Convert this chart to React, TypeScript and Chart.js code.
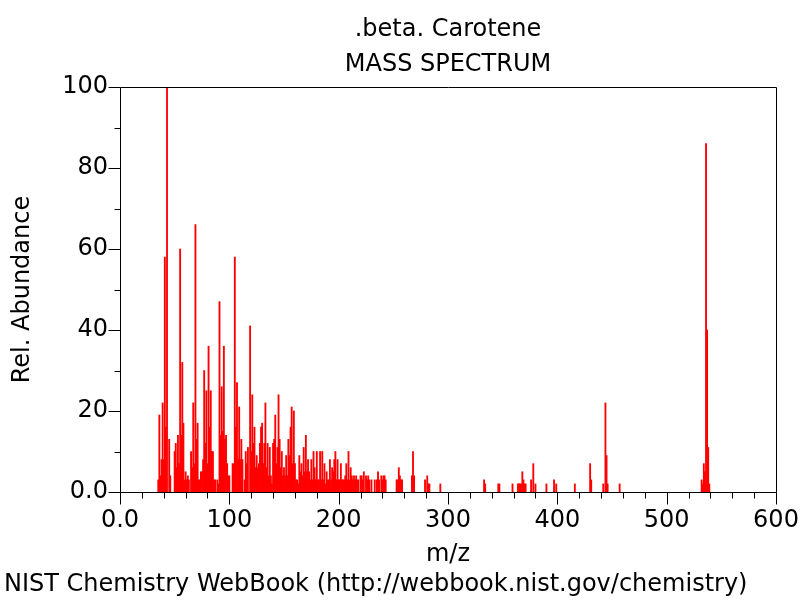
import React, { useEffect, useRef } from 'react';
import { Chart, registerables } from 'chart.js';

Chart.register(...registerables);

const TITLE_LINES = ['.beta. Carotene', 'MASS SPECTRUM'];
const X_TITLE = 'm/z';
const Y_TITLE = 'Rel. Abundance';
const FOOTER = 'NIST Chemistry WebBook (http://webbook.nist.gov/chemistry)';

const X_TICK_LABELS = ['0.0', '100', '200', '300', '400', '500', '600'];
const Y_TICK_LABELS = ['0.0', '20', '40', '60', '80', '100'];

// m/z values
const MZ = [
  35, 36, 37, 38, 39, 40, 41, 42, 43, 45, 46,
  50, 51, 52, 53, 54, 55, 56, 57, 58,
  59, 60, 61, 62, 63,
  65, 66, 67, 68, 69, 70, 71, 72, 73, 74, 75, 76, 77, 78, 79, 80,
  81, 82, 83, 84, 85, 86, 87, 89, 90, 91, 92, 93, 94, 95, 96, 97, 98, 99, 100,
  103, 104, 105, 106, 107, 108, 109, 110, 111, 112, 114, 115, 116, 117, 119,
  120, 121, 122, 123, 124, 125, 126, 127, 128, 129, 130, 131, 132, 133, 134, 135, 136, 137, 138, 139, 140,
  141, 142, 143, 144, 145, 146, 147, 148, 149, 150, 151, 152, 153, 154, 155, 156, 157, 158, 159, 160,
  161, 162, 163, 164, 165, 166, 167, 168, 169, 170, 171, 172, 173, 174, 175, 176, 177, 178, 179, 180,
  181, 182, 183, 184, 185, 186, 187, 188, 189, 190, 191, 192, 193, 194, 195, 196, 197, 198, 199, 200,
  201, 202, 203, 204, 205, 206, 207, 208, 209, 210, 211, 212, 213, 214, 215, 216, 217, 218, 220,
  221, 222, 223, 225, 226, 227, 228, 230, 233, 235, 236, 237, 239, 240, 241, 242, 243,
  253, 254, 255, 256, 257, 258, 267, 268, 269, 279, 281, 282, 283, 293,
  333, 334, 346, 347, 359, 364, 365, 366, 367, 368, 369, 370, 371, 376, 378, 380, 390, 397, 399,
  416, 430, 431, 442, 444, 445, 446, 457,
  532, 533, 534, 535, 536, 537, 538, 539,
];

// relative abundance (%)
const ABUNDANCE = [
  3, 19, 4, 8, 22, 8, 58, 16, 100, 13, 4,
  10, 12, 6, 14, 7, 60, 14, 32, 17,
  3, 5, 3, 4, 3,
  10, 6, 22, 7, 66, 13, 17, 3, 3, 5, 5, 8, 30, 12, 25, 7,
  36, 16, 25, 10, 10, 3, 3, 3, 2, 47, 14, 26, 15, 36, 13, 14, 7, 4, 4,
  7, 7, 58, 16, 27, 8, 21, 8, 13, 8, 3, 10, 7, 11, 41,
  10, 24, 12, 16, 6, 9, 6, 7, 12, 16, 17, 7, 12, 22, 6, 12, 4, 11, 4, 2, 12,
  13, 19, 7, 11, 24, 13, 6, 10, 4, 6, 4, 9, 4, 13, 9, 16, 21, 7, 20, 7,
  3, 3, 2, 9, 5, 7, 4, 11, 5, 14, 5, 8, 5, 3, 8, 3, 10, 6, 3, 10,
  3, 3, 10, 3, 10, 3, 7, 2, 5, 3, 3, 8, 3, 6, 5, 8, 10, 3, 8, 3,
  3, 7, 3, 3, 3, 4, 7, 3, 10, 3, 6, 4, 3, 4, 3, 4, 3, 3, 4,
  4, 3, 5, 4, 3, 4, 3, 3, 3, 3, 5, 3, 4, 3, 4, 4, 3,
  3, 3, 6, 4, 3, 3, 4, 10, 4, 3, 4, 2, 2, 2,
  3, 2, 2, 2, 2, 2, 2, 2, 2, 5, 3, 2, 2, 3, 7, 2, 2, 3, 2,
  2, 7, 3, 2, 22, 9, 2, 2,
  3, 2, 7, 5, 86, 40, 11, 2,
];

const FONT = '"DejaVu Sans", sans-serif';

const decorPlugin = {
  id: 'decor',
  afterDraw(chart: any) {
    const { ctx, chartArea: a, scales } = chart;
    const L = Math.round(a.left) + 0.5;
    const R = Math.round(a.right) + 0.5;
    const T = Math.round(a.top) + 0.5;
    const B = Math.round(a.bottom) + 0.5;
    ctx.save();
    ctx.strokeStyle = '#000';
    ctx.lineWidth = 1;
    ctx.beginPath();
    ctx.rect(L, T, R - L, B - T);
    const xs = scales.x;
    xs.ticks.forEach((t: any) => {
      const px = Math.round(xs.getPixelForValue(t.value)) + 0.5;
      const len = t.value % 100 === 0 ? 12 : 6;
      ctx.moveTo(px, B);
      ctx.lineTo(px, B + len);
    });
    const ys = scales.y;
    ys.ticks.forEach((t: any) => {
      const py = Math.round(ys.getPixelForValue(t.value)) + 0.5;
      const len = t.value % 20 === 0 ? 12 : 6;
      ctx.moveTo(L, py);
      ctx.lineTo(L - len, py);
    });
    ctx.stroke();

    ctx.fillStyle = '#000';
    ctx.font = '24px ' + FONT;
    ctx.textBaseline = 'alphabetic';
    ctx.textAlign = 'center';
    const cx = (a.left + a.right) / 2;
    ctx.fillText(TITLE_LINES[0], cx, 36);
    ctx.fillText(TITLE_LINES[1], cx, 71);
    ctx.textAlign = 'left';
    ctx.fillText(FOOTER, 4, 591);
    ctx.restore();
  },
};

export default function App() {
  const ref = useRef<HTMLCanvasElement | null>(null);
  useEffect(() => {
    if (!ref.current) return;
    const points = MZ.map((m, i) => ({ x: m, y: ABUNDANCE[i] }));
    const chart = new Chart(ref.current, {
      type: 'bar',
      data: {
        datasets: [
          {
            data: points as any,
            backgroundColor: '#ff0000',
            borderWidth: 0,
            barThickness: 1.2,
          } as any,
        ],
      },
      options: {
        animation: false,
        responsive: false,
        devicePixelRatio: 1,
        layout: { padding: { top: 87, right: 24, left: 0, bottom: 0 } },
        plugins: {
          legend: { display: false },
          tooltip: { enabled: false },
        },
        scales: {
          x: {
            type: 'linear',
            min: 0,
            max: 600,
            offset: false,
            grid: { display: false, drawTicks: false, offset: false },
            border: { display: false },
            ticks: {
              stepSize: 20,
              autoSkip: false,
              maxRotation: 0,
              padding: 14,
              color: '#000',
              font: { family: FONT, size: 24 },
              callback: (v: any) => (Number(v) % 100 === 0 ? X_TICK_LABELS[Number(v) / 100] : ''),
            },
            title: {
              display: true,
              text: X_TITLE,
              color: '#000',
              font: { family: FONT, size: 24 },
              padding: { top: 0, bottom: 31 },
            },
            afterFit: (s: any) => {
              s.height = 108;
              s.paddingLeft = 0;
              s.paddingRight = 0;
            },
          },
          y: {
            type: 'linear',
            min: 0,
            max: 100,
            grid: { display: false, drawTicks: false },
            border: { display: false },
            ticks: {
              stepSize: 10,
              autoSkip: false,
              padding: 12,
              color: '#000',
              font: { family: FONT, size: 24 },
              callback: (v: any) => (Number(v) % 20 === 0 ? Y_TICK_LABELS[Number(v) / 20] : ''),
            },
            title: {
              display: true,
              text: Y_TITLE,
              color: '#000',
              font: { family: FONT, size: 24 },
              padding: { top: 8, bottom: 0 },
            },
            afterFit: (s: any) => {
              s.width = 120;
              s.paddingTop = 0;
              s.paddingBottom = 0;
            },
          },
        },
      },
      plugins: [decorPlugin],
    });
    return () => chart.destroy();
  }, []);
  return (
    <div style={{ position: 'absolute', left: 0, top: 0, width: 800, height: 600, background: '#fff' }}>
      <canvas ref={ref} width={800} height={600} />
    </div>
  );
}
